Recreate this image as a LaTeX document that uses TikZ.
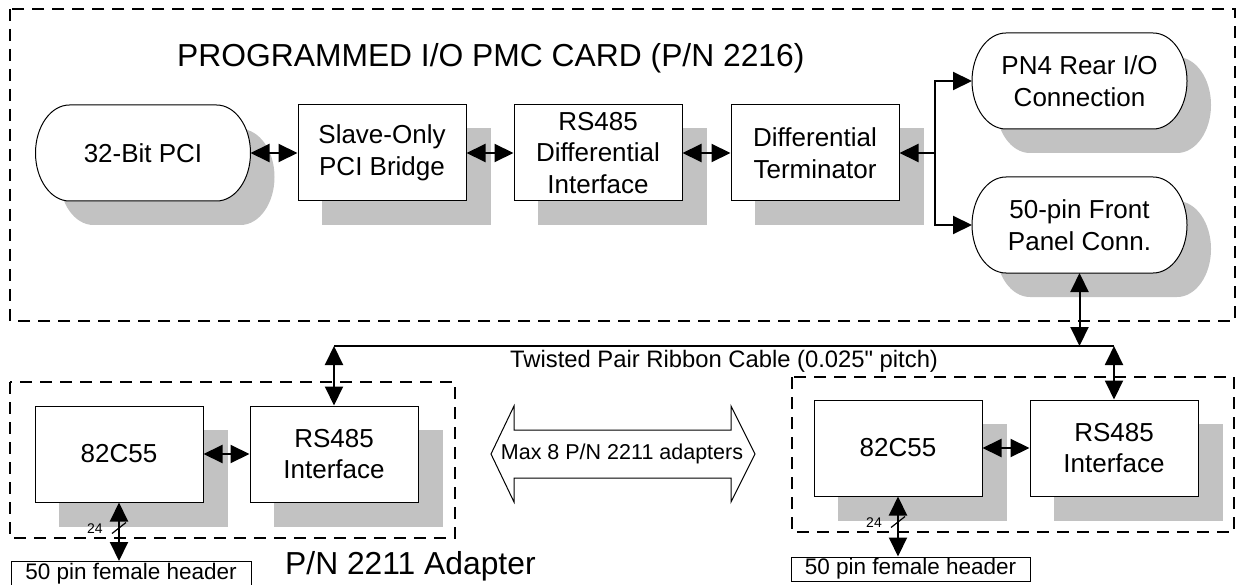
\documentclass[tikz,border=0pt]{standalone}
\usepackage{fontspec}
\setmainfont{Liberation Sans}
\usetikzlibrary{arrows.meta,calc,backgrounds}
\newcommand\stadpath[3]{($(#1.north west)+(#2+34,#3)$) -- ($(#1.north east)+(#2-34,#3)$) arc[start angle=90,end angle=-90,x radius=34pt,y radius=48pt] -- ($(#1.south west)+(#2+34,#3)$) arc[start angle=270,end angle=90,x radius=34pt,y radius=48pt] -- cycle}
\newcommand\straightquote{{\XeTeXglyph\XeTeXcharglyph"22\relax}}
\tikzset{
  blk/.style={draw, line width=1pt, fill=white, minimum width=168pt, minimum height=96pt, inner sep=0pt, align=center, font=\fontsize{26}{31.7}\selectfont},
  stad/.style={minimum width=215pt, minimum height=96pt, inner sep=0pt, outer sep=0pt, align=center, font=\fontsize{26}{32}\selectfont},
  hdr/.style={draw, line width=1pt, fill=white, minimum height=24pt, inner sep=0pt, font=\fontsize{22.5}{24}\selectfont},
  frame/.style={line width=2.2pt, dash pattern=on 12pt off 8pt},
  conn/.style={line width=2pt},
  tip/.tip={Triangle[length=19pt,width=18pt]},
  biarrow/.style={conn, tip-tip},
  shadowc/.style={fill=black!24},
  bigtxt/.style={font=\fontsize{31.8}{34}\selectfont, inner sep=0pt},
  midtxt/.style={font=\fontsize{23.8}{26}\selectfont, inner sep=0pt},
}
\begin{document}
\begin{tikzpicture}[x=1pt,y=-1pt]
\useasboundingbox (0,0) rectangle (1241,585);
% frames
\draw[frame] (10,9) rectangle (1235,321);
\draw[frame] (10,382) rectangle (455,538);
\draw[frame] (792,377) rectangle (1234,532);
% titles
\node[bigtxt, anchor=base west] (title) at (177,67) {PROGRAMMED I/O PMC CARD (P/N 2216)};
\node[bigtxt, anchor=base west] (adapterlbl) at (285,574.5) {P/N 2211 Adapter};
\node[midtxt, anchor=base west] (cablelbl) at (510,367) {Twisted Pair Ribbon Cable (0.025\straightquote{} pitch)};
% top row
\node[stad] (pci) at (143,153) {32-Bit PCI};
\node[blk] (slave) at (382,153) {Slave-Only\\PCI Bridge};
\node[blk] (rsd) at (598,153) {RS485\\Differential\\Interface};
\node[blk] (term) at (815,153) {Differential\\Terminator};
\node[stad] (pn4) at (1079.5,81) {PN4 Rear I/O\\Connection};
\node[stad] (fp50) at (1079.5,225) {50-pin Front\\Panel Conn.};
% bottom adapters
\node[blk] (icL) at (119,454) {82C55};
\node[blk] (rsL) at (334,454) {RS485\\Interface};
\node[blk] (icR) at (898,448) {82C55};
\node[blk] (rsR) at (1114,448) {RS485\\Interface};
\node[hdr, minimum width=240pt] (hdrL) at (131,573.5) {50 pin female header};
\node[hdr, minimum width=239pt] (hdrR) at (910.5,569) {50 pin female header};
% shadows and stadium outlines
\begin{scope}[on background layer]
  \foreach \n in {slave,rsd,term,icL,rsL,icR,rsR}
    {\fill[shadowc] ($(\n.north west)+(24,24)$) rectangle ($(\n.south east)+(24,24)$);}
  \foreach \n in {pci,pn4,fp50}
    {\fill[shadowc] \stadpath{\n}{24}{24};
     \filldraw[fill=white, line width=1pt] \stadpath{\n}{0}{0};}
\end{scope}
% connectors top
\draw[biarrow] (pci.east) -- (slave.west);
\draw[biarrow] (slave.east) -- (rsd.west);
\draw[biarrow] (rsd.east) -- (term.west);
\coordinate (junc) at (935,153);
\draw[conn, tip-] (term.east) -- (junc);
\draw[conn, -tip] (junc) |- (pn4.west);
\draw[conn, -tip] (junc) |- (fp50.west);
% cable
\coordinate (cL) at (334,346);
\coordinate (cR) at (1114,346);
\draw[conn] (cL) -- (cR);
\draw[biarrow] (fp50.south) -- (fp50.south |- cL);
\draw[biarrow] (cL) -- (rsL.north);
\draw[biarrow] (cR) -- (rsR.north);
% adapter internal
\draw[biarrow] (icL.east) -- (rsL.west);
\draw[biarrow] (icR.east) -- (rsR.west);
\draw[biarrow] (icL.south) -- (icL.south |- hdrL.north);
\draw[biarrow] (icR.south) -- (icR.south |- hdrR.north);
\draw[line width=1.2pt] ($(icL.south)+(-7,31)$) -- ($(icL.south)+(7,20)$);
\draw[line width=1.2pt] ($(icR.south)+(-7,31)$) -- ($(icR.south)+(7,20)$);
\node[font=\fontsize{14}{16}\selectfont, inner sep=0pt] (lbl24L) at ($(icL.south)+(-24,26)$) {24};
\node[font=\fontsize{14}{16}\selectfont, inner sep=0pt] (lbl24R) at ($(icR.south)+(-24,26)$) {24};
% big hollow double arrow
\draw[line width=1pt] (491,454) -- (514,406) -- (514,430) -- (731,430) -- (731,406) -- (755,454) -- (731,502) -- (731,478) -- (514,478) -- (514,502) -- cycle;
\node[font=\fontsize{21.5}{24}\selectfont, inner sep=0pt] (maxlbl) at (622,454) {Max 8 P/N 2211 adapters};
\end{tikzpicture}
\end{document}
